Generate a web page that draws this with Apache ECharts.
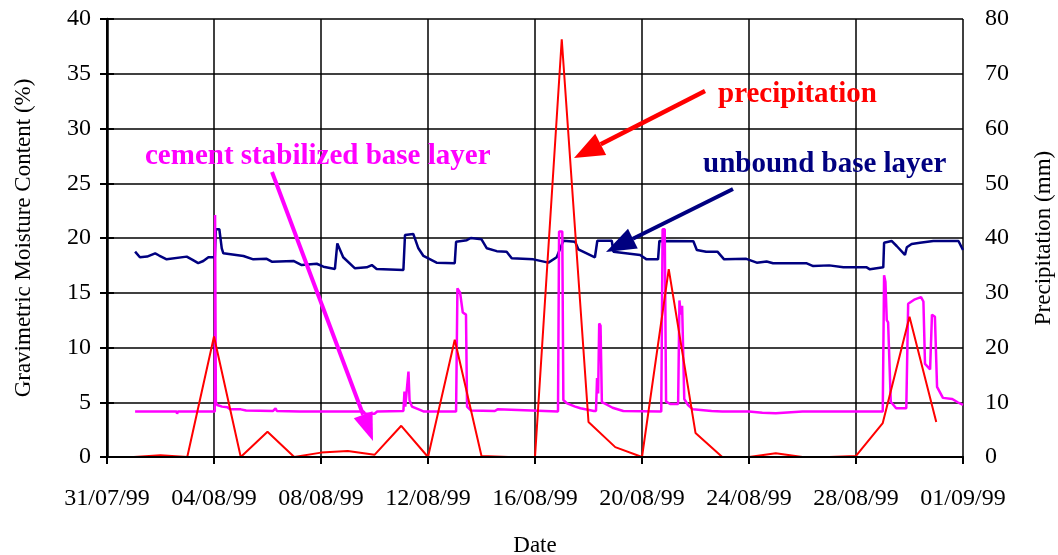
<!DOCTYPE html>
<html>
<head>
<meta charset="utf-8">
<script src="https://cdn.jsdelivr.net/npm/echarts/dist/echarts.min.js"></script>
<style>
  html, body { margin: 0; padding: 0; background: #fff; }
  #chart { width: 1058px; height: 555px; }
</style>
</head>
<body>
<div id="chart"></div>
<script>
// x values are days counted from 31/07/99
var xTickLabels = ['31/07/99', '04/08/99', '08/08/99', '12/08/99', '16/08/99', '20/08/99', '24/08/99', '28/08/99', '01/09/99'];

// unbound base layer, moisture (%)
var unboundData = [
	[1.05, 18.75], [1.23, 18.24], [1.5, 18.3], [1.8, 18.6], [1.95, 18.4], [2.23, 18.05], [2.98, 18.3],
	[3.2, 18.0], [3.41, 17.7], [3.6, 17.9], [3.79, 18.24], [4.03, 18.24], [4.07, 20.8], [4.2, 20.8],
	[4.29, 19.06], [4.35, 18.6], [5.1, 18.36], [5.47, 18.05], [5.97, 18.1], [6.16, 17.84], [6.97, 17.9],
	[7.28, 17.53], [7.84, 17.65], [8.09, 17.38], [8.52, 17.17], [8.61, 19.5], [8.83, 18.24], [9.27, 17.23],
	[9.71, 17.32], [9.9, 17.53], [10.08, 17.17], [11.08, 17.08], [11.14, 20.27], [11.45, 20.37],
	[11.64, 19.06], [11.83, 18.36], [12.32, 17.75], [13.0, 17.7], [13.05, 19.66], [13.45, 19.8],
	[13.6, 20.0], [14.0, 19.88], [14.2, 19.06], [14.57, 18.8], [14.94, 18.75], [15.13, 18.14],
	[15.94, 18.05], [16.5, 17.75], [16.81, 18.24], [17.06, 19.75], [17.5, 19.66], [17.62, 18.97],
	[18.24, 18.24], [18.33, 19.75], [18.87, 19.75], [18.93, 18.75], [19.93, 18.45], [20.17, 18.05],
	[20.6, 18.05], [20.65, 19.73], [21.92, 19.7], [22.05, 18.9], [22.4, 18.75], [22.82, 18.75],
	[23.07, 18.05], [23.9, 18.1], [24.29, 17.75], [24.66, 17.85], [24.9, 17.69], [26.16, 17.69],
	[26.4, 17.44], [27.0, 17.5], [27.53, 17.32], [28.4, 17.32], [28.52, 17.14], [29.02, 17.32],
	[29.05, 19.57], [29.33, 19.73], [29.52, 19.27], [29.83, 18.45], [29.9, 19.15], [30.08, 19.45],
	[30.39, 19.57], [30.89, 19.73], [31.83, 19.73], [32.0, 18.9]
];

// cement stabilized base layer, moisture (%)
var cementData = [
	[1.05, 4.15], [2.6, 4.15], [2.62, 3.95], [2.65, 4.15], [4.03, 4.15], [4.04, 22.1], [4.07, 5.0],
	[4.12, 4.75], [4.3, 4.6], [4.5, 4.55], [4.6, 4.35], [5.0, 4.35], [5.2, 4.25], [6.2, 4.2], [6.3, 4.45],
	[6.35, 4.2], [7.2, 4.15], [9.6, 4.15], [9.65, 3.95], [10.0, 3.95], [10.1, 4.15], [11.08, 4.2],
	[11.12, 5.97], [11.15, 4.6], [11.22, 4.5], [11.27, 7.8], [11.31, 5.2], [11.4, 4.6], [11.7, 4.3],
	[11.85, 4.15], [13.05, 4.15], [13.1, 15.4], [13.2, 15.0], [13.3, 13.2], [13.42, 13.0], [13.46, 4.6],
	[13.6, 4.25], [14.5, 4.2], [14.6, 4.35], [14.65, 4.2], [16.86, 4.15], [16.9, 20.6], [17.02, 20.6],
	[17.06, 5.2], [17.2, 4.9], [17.5, 4.6], [17.7, 4.45], [18.2, 4.2], [18.28, 4.2], [18.32, 7.2],
	[18.36, 5.8], [18.4, 12.2], [18.45, 12.0], [18.5, 5.0], [18.6, 4.9], [18.9, 4.5], [19.3, 4.2],
	[20.72, 4.15], [20.77, 20.8], [20.85, 20.8], [20.9, 5.05], [21.05, 4.85], [21.35, 4.85], [21.4, 14.3],
	[21.45, 13.0], [21.5, 13.8], [21.58, 5.3], [21.72, 4.75], [21.9, 4.35], [22.6, 4.2], [23.0, 4.15],
	[24.0, 4.15], [24.5, 4.05], [25.0, 4.0], [26.0, 4.15], [29.0, 4.15], [29.05, 16.6], [29.1, 16.0],
	[29.15, 12.5], [29.2, 12.3], [29.3, 5.05], [29.5, 4.45], [29.88, 4.45], [29.95, 14.0], [30.2, 14.4],
	[30.43, 14.6], [30.52, 14.2], [30.58, 8.5], [30.77, 8.0], [30.84, 13.0], [30.95, 12.8], [31.03, 6.4],
	[31.25, 5.4], [31.6, 5.3], [31.8, 5.0], [32.0, 4.75]
];

// daily precipitation (mm), 01/08/99 .. 31/08/99
var precipDays = [1, 2, 3, 4, 5, 6, 7, 8, 9, 10, 11, 12, 13, 14, 15, 16, 17, 18, 19, 20, 21, 22, 23, 24, 25, 26, 27, 28, 29, 30, 31];
var precipValues = [0, 0.3, 0, 22, 0, 4.6, 0, 0.8, 1.1, 0.4, 5.7, 0, 21.4, 0.2, 0, 0, 76.3, 6.4, 1.8, 0, 34.3, 4.4, 0, 0, 0.7, 0, 0, 0.2, 6.2, 25.6, 6.4];

var precipData = precipDays.map(function (d, i) {
	return [d, precipValues[i]];
});

var FONT = 'Liberation Serif';

// annotation arrow: a line plus a filled head at (x2, y2)
function arrow(x1, y1, x2, y2, color, width, headLen, headW) {
	var dx = x2 - x1, dy = y2 - y1;
	var len = Math.sqrt(dx * dx + dy * dy);
	var ux = dx / len, uy = dy / len;
	var bx = x2 - ux * headLen, by = y2 - uy * headLen;
	return [{
		type: 'line',
		shape: { x1: x1, y1: y1, x2: bx, y2: by },
		style: { stroke: color, lineWidth: width },
		z: 10
	}, {
		type: 'polygon',
		shape: { points: [[x2, y2], [bx - uy * headW / 2, by + ux * headW / 2], [bx + uy * headW / 2, by - ux * headW / 2]] },
		style: { fill: color },
		z: 10
	}];
}

var chart = echarts.init(document.getElementById('chart'));

var axisTextStyle = { color: '#000', fontFamily: FONT, fontSize: 24 };

var option = {
	backgroundColor: '#fff',
	animation: false,
	grid: { left: 107, right: 95, top: 19, bottom: 98, containLabel: false, outerBoundsMode: 'none' },
	xAxis: [{
		type: 'value',
		min: 0,
		max: 32,
		interval: 4,
		name: 'Date',
		nameLocation: 'middle',
		nameGap: 77,
		nameTextStyle: { color: '#000', fontFamily: FONT, fontSize: 23 },
		axisLine: { lineStyle: { color: '#000', width: 2 } },
		axisTick: { show: true, length: 7, lineStyle: { color: '#000', width: 2 } },
		splitLine: { show: true, lineStyle: { color: '#000', width: 1.5 } },
		axisLabel: Object.assign({
			margin: 30,
			formatter: function (v) { return xTickLabels[Math.round(v / 4)]; }
		}, axisTextStyle)
	}, {
		// same axis again, only its line, drawn over the series
		type: 'value',
		position: 'bottom',
		min: 0,
		max: 32,
		z: 5,
		axisLine: { lineStyle: { color: '#000', width: 2 } },
		axisTick: { show: false },
		axisLabel: { show: false },
		splitLine: { show: false }
	}],
	yAxis: [{
		type: 'value',
		min: 0,
		max: 40,
		interval: 5,
		name: 'Gravimetric Moisture Content (%)',
		nameLocation: 'middle',
		nameRotate: 90,
		nameGap: 72,
		nameTextStyle: { color: '#000', fontFamily: FONT, fontSize: 23 },
		axisLine: { show: true, lineStyle: { color: '#000', width: 2 } },
		axisTick: { show: true, length: 7, lineStyle: { color: '#000', width: 2 } },
		splitLine: { show: true, lineStyle: { color: '#000', width: 1.5 } },
		axisLabel: Object.assign({ margin: 16 }, axisTextStyle)
	}, {
		type: 'value',
		min: 0,
		max: 80,
		interval: 10,
		position: 'right',
		name: 'Precipitation (mm)',
		nameLocation: 'middle',
		nameRotate: 90,
		nameGap: 69,
		nameTextStyle: { color: '#000', fontFamily: FONT, fontSize: 23 },
		axisLine: { show: true, lineStyle: { color: '#000', width: 2.5 } },
		axisTick: { show: true, length: 7, lineStyle: { color: '#000', width: 2 } },
		splitLine: { show: false },
		axisLabel: Object.assign({ margin: 22 }, axisTextStyle)
	}],
	series: [{
		name: 'unbound base layer',
		type: 'line',
		yAxisIndex: 0,
		showSymbol: false,
		data: unboundData,
		lineStyle: { color: '#000080', width: 2.5 },
		itemStyle: { color: '#000080' },
		z: 2
	}, {
		name: 'cement stabilized base layer',
		type: 'line',
		yAxisIndex: 0,
		showSymbol: false,
		data: cementData,
		lineStyle: { color: '#ff00ff', width: 2.5 },
		itemStyle: { color: '#ff00ff' },
		z: 3
	}, {
		name: 'precipitation',
		type: 'line',
		yAxisIndex: 1,
		showSymbol: false,
		data: precipData,
		lineStyle: { color: '#ff0000', width: 2 },
		itemStyle: { color: '#ff0000' },
		z: 4
	}],
	graphic: [].concat(
		arrow(272, 172, 373, 441, '#ff00ff', 4, 28, 20),
		arrow(705, 91, 574, 158, '#ff0000', 4.5, 30, 24),
		arrow(733, 189, 606, 252, '#000080', 4, 30, 22),
		[{
			type: 'text', left: 145, top: 142, z: 11,
			style: { text: 'cement stabilized base layer', fill: '#ff00ff', font: 'bold 29px "Liberation Serif"' }
		}, {
			type: 'text', left: 703, top: 150, z: 11,
			style: { text: 'unbound base layer', fill: '#000080', font: 'bold 29px "Liberation Serif"' }
		}, {
			type: 'text', left: 718, top: 80, z: 11,
			style: { text: 'precipitation', fill: '#ff0000', font: 'bold 29px "Liberation Serif"' }
		}]
	)
};

chart.setOption(option);
</script>
</body>
</html>
